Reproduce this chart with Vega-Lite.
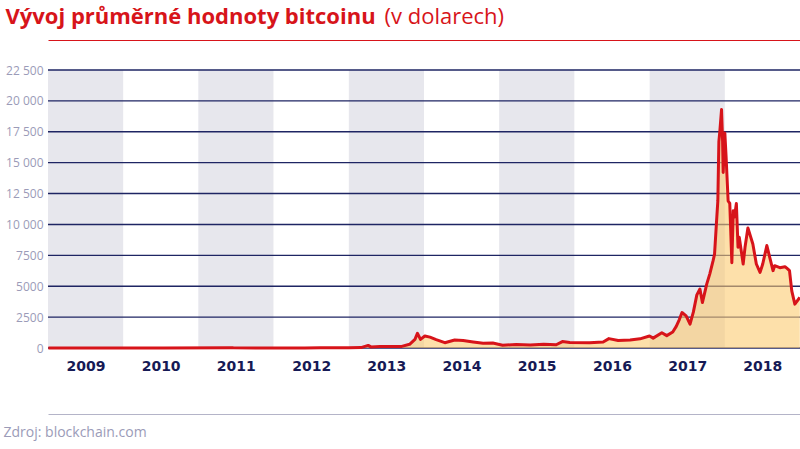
{
  "$schema": "https://vega.github.io/schema/vega-lite/v6.json",
  "width": 752,
  "height": 278,
  "autosize": "none",
  "padding": {"left": 48, "top": 70, "right": 0, "bottom": 101},
  "background": "white",
  "config": {"view": {"stroke": null}, "font": "Open Sans"},
  "datasets": {
    "bands": [
      {"start": "2009-01-01", "end": "2010-01-01"},
      {"start": "2011-01-01", "end": "2012-01-01"},
      {"start": "2013-01-01", "end": "2014-01-01"},
      {"start": "2015-01-01", "end": "2016-01-01"},
      {"start": "2017-01-01", "end": "2018-01-01"}
    ],
    "grid": [
      {"v": 0}, {"v": 2500}, {"v": 5000}, {"v": 7500}, {"v": 10000},
      {"v": 12500}, {"v": 15000}, {"v": 17500}, {"v": 20000}, {"v": 22500}
    ],
    "prices": [
      {"date": "2009-01-03", "price": 0},
      {"date": "2010-07-17", "price": 0.05},
      {"date": "2011-06-08", "price": 30},
      {"date": "2011-06-20", "price": 18},
      {"date": "2011-11-01", "price": 3},
      {"date": "2012-06-01", "price": 6},
      {"date": "2012-08-15", "price": 12},
      {"date": "2013-01-01", "price": 13},
      {"date": "2013-03-01", "price": 35},
      {"date": "2013-04-05", "price": 210},
      {"date": "2013-04-18", "price": 90},
      {"date": "2013-06-01", "price": 120},
      {"date": "2013-09-15", "price": 130},
      {"date": "2013-10-23", "price": 300},
      {"date": "2013-11-18", "price": 700},
      {"date": "2013-11-30", "price": 1190},
      {"date": "2013-12-15", "price": 700},
      {"date": "2014-01-05", "price": 970},
      {"date": "2014-01-30", "price": 880},
      {"date": "2014-03-01", "price": 680},
      {"date": "2014-04-12", "price": 430},
      {"date": "2014-05-30", "price": 650},
      {"date": "2014-07-10", "price": 610},
      {"date": "2014-08-28", "price": 490},
      {"date": "2014-10-15", "price": 380},
      {"date": "2014-12-01", "price": 400},
      {"date": "2015-01-18", "price": 220},
      {"date": "2015-03-25", "price": 290},
      {"date": "2015-06-01", "price": 240},
      {"date": "2015-08-05", "price": 300},
      {"date": "2015-10-05", "price": 260},
      {"date": "2015-11-04", "price": 520},
      {"date": "2015-12-10", "price": 450},
      {"date": "2016-03-15", "price": 420},
      {"date": "2016-05-20", "price": 480},
      {"date": "2016-06-17", "price": 760},
      {"date": "2016-08-01", "price": 600},
      {"date": "2016-09-28", "price": 640},
      {"date": "2016-11-15", "price": 740},
      {"date": "2016-12-31", "price": 970},
      {"date": "2017-01-18", "price": 800},
      {"date": "2017-03-01", "price": 1240},
      {"date": "2017-03-25", "price": 1000},
      {"date": "2017-04-23", "price": 1300},
      {"date": "2017-05-10", "price": 1750},
      {"date": "2017-05-25", "price": 2300},
      {"date": "2017-06-07", "price": 2870},
      {"date": "2017-06-27", "price": 2600},
      {"date": "2017-07-16", "price": 1930},
      {"date": "2017-08-01", "price": 2900},
      {"date": "2017-08-18", "price": 4300},
      {"date": "2017-09-02", "price": 4770},
      {"date": "2017-09-14", "price": 3680},
      {"date": "2017-10-05", "price": 5170},
      {"date": "2017-10-20", "price": 6000},
      {"date": "2017-11-05", "price": 7070},
      {"date": "2017-11-12", "price": 7600},
      {"date": "2017-11-21", "price": 10050},
      {"date": "2017-11-28", "price": 11900},
      {"date": "2017-12-03", "price": 16700},
      {"date": "2017-12-08", "price": 17600},
      {"date": "2017-12-16", "price": 19300},
      {"date": "2017-12-21", "price": 16800},
      {"date": "2017-12-24", "price": 14200},
      {"date": "2018-01-01", "price": 17400},
      {"date": "2018-01-07", "price": 15500},
      {"date": "2018-01-17", "price": 11900},
      {"date": "2018-01-25", "price": 11700},
      {"date": "2018-02-04", "price": 6900},
      {"date": "2018-02-11", "price": 11100},
      {"date": "2018-02-17", "price": 10600},
      {"date": "2018-02-26", "price": 11700},
      {"date": "2018-03-06", "price": 8150},
      {"date": "2018-03-12", "price": 8960},
      {"date": "2018-03-31", "price": 6800},
      {"date": "2018-04-09", "price": 8150},
      {"date": "2018-04-23", "price": 9720},
      {"date": "2018-05-17", "price": 8420},
      {"date": "2018-06-03", "price": 6800},
      {"date": "2018-06-21", "price": 6120},
      {"date": "2018-07-04", "price": 6800},
      {"date": "2018-07-24", "price": 8290},
      {"date": "2018-08-07", "price": 7340},
      {"date": "2018-08-23", "price": 6260},
      {"date": "2018-08-31", "price": 6660},
      {"date": "2018-09-25", "price": 6500},
      {"date": "2018-10-20", "price": 6580},
      {"date": "2018-11-02", "price": 6400},
      {"date": "2018-11-11", "price": 6260},
      {"date": "2018-11-22", "price": 4630},
      {"date": "2018-12-07", "price": 3550},
      {"date": "2018-12-31", "price": 4090}
    ]
  },
  "resolve": {"axis": {"x": "independent", "y": "independent"}},
  "layer": [
    {
      "data": {"name": "bands"},
      "mark": {"type": "rect", "color": "#e7e7ed"},
      "encoding": {
        "x": {
          "field": "start", "type": "temporal",
          "scale": {"domain": [{"year": 2009, "month": 1, "date": 1}, {"year": 2019, "month": 1, "date": 1}]},
          "axis": {
            "title": null, "orient": "bottom", "domain": false, "ticks": false, "grid": false,
            "values": [
              {"year": 2009, "month": 7, "date": 2}, {"year": 2010, "month": 7, "date": 2},
              {"year": 2011, "month": 7, "date": 2}, {"year": 2012, "month": 7, "date": 2},
              {"year": 2013, "month": 7, "date": 2}, {"year": 2014, "month": 7, "date": 2},
              {"year": 2015, "month": 7, "date": 2}, {"year": 2016, "month": 7, "date": 2},
              {"year": 2017, "month": 7, "date": 2}, {"year": 2018, "month": 7, "date": 2}
            ],
            "format": "%Y", "labelFont": "DejaVu Sans", "labelFontWeight": "bold",
            "labelFontSize": 14, "labelColor": "#161a55", "labelPadding": 11,
            "labelBaseline": "top", "labelOverlap": false, "labelFlush": false
          }
        },
        "x2": {"field": "end"}
      }
    },
    {
      "data": {"name": "grid"},
      "mark": {"type": "rule", "color": "#1e2563", "strokeWidth": 1.4},
      "encoding": {
        "y": {
          "field": "v", "type": "quantitative",
          "scale": {"domain": [0, 22500], "nice": false},
          "axis": {
            "title": "(v dolarech)", "titleAngle": 0, "titleAlign": "left", "titleBaseline": "alphabetic",
            "titleX": 336, "titleY": -47, "titleFont": "Open Sans", "titleFontWeight": "normal",
            "titleFontSize": 22, "titleColor": "#d7141a",
            "values": [0, 2500, 5000, 7500, 10000, 12500, 15000, 17500, 20000, 22500],
            "labelExpr": "datum.value >= 10000 ? replace(format(datum.value, ','), ',', ' ') : format(datum.value, 'd')",
            "domain": false, "ticks": false, "grid": false,
            "labelFont": "Open Sans", "labelFontSize": 12, "labelColor": "#9b9bb8", "labelPadding": 5
          }
        }
      }
    },
    {
      "data": {"name": "prices"},
      "mark": {"type": "area", "color": "#fccb71", "opacity": 0.6},
      "encoding": {
        "x": {
          "field": "date", "type": "temporal",
          "scale": {"domain": [{"year": 2009, "month": 1, "date": 1}, {"year": 2019, "month": 1, "date": 1}]},
          "axis": {
            "orient": "top", "offset": 30, "labels": false, "ticks": false, "grid": false,
            "domain": true, "domainColor": "#d7141a", "domainWidth": 1,
            "title": "Vývoj průměrné hodnoty bitcoinu", "titleX": -43, "titleY": -17,
            "titleAlign": "left", "titleBaseline": "alphabetic", "titleAngle": 0,
            "titleFont": "Open Sans", "titleFontWeight": "bold", "titleFontSize": 22, "titleColor": "#d7141a"
          }
        },
        "y": {"field": "price", "type": "quantitative", "scale": {"domain": [0, 22500], "nice": false}, "axis": null}
      }
    },
    {
      "data": {"name": "prices"},
      "mark": {"type": "line", "color": "#d7141a", "strokeWidth": 3, "strokeJoin": "round"},
      "encoding": {
        "x": {
          "field": "date", "type": "temporal",
          "scale": {"domain": [{"year": 2009, "month": 1, "date": 1}, {"year": 2019, "month": 1, "date": 1}]},
          "axis": {
            "orient": "bottom", "offset": 66, "labels": false, "ticks": false, "grid": false,
            "domain": true, "domainColor": "#b4b4c8", "domainWidth": 1,
            "title": "Zdroj: blockchain.com", "titleX": -45, "titleY": 22,
            "titleAlign": "left", "titleBaseline": "alphabetic", "titleAngle": 0,
            "titleFont": "Open Sans", "titleFontWeight": "normal", "titleFontSize": 14, "titleColor": "#9b9bb8"
          }
        },
        "y": {"field": "price", "type": "quantitative", "scale": {"domain": [0, 22500], "nice": false}, "axis": null}
      }
    }
  ]
}
